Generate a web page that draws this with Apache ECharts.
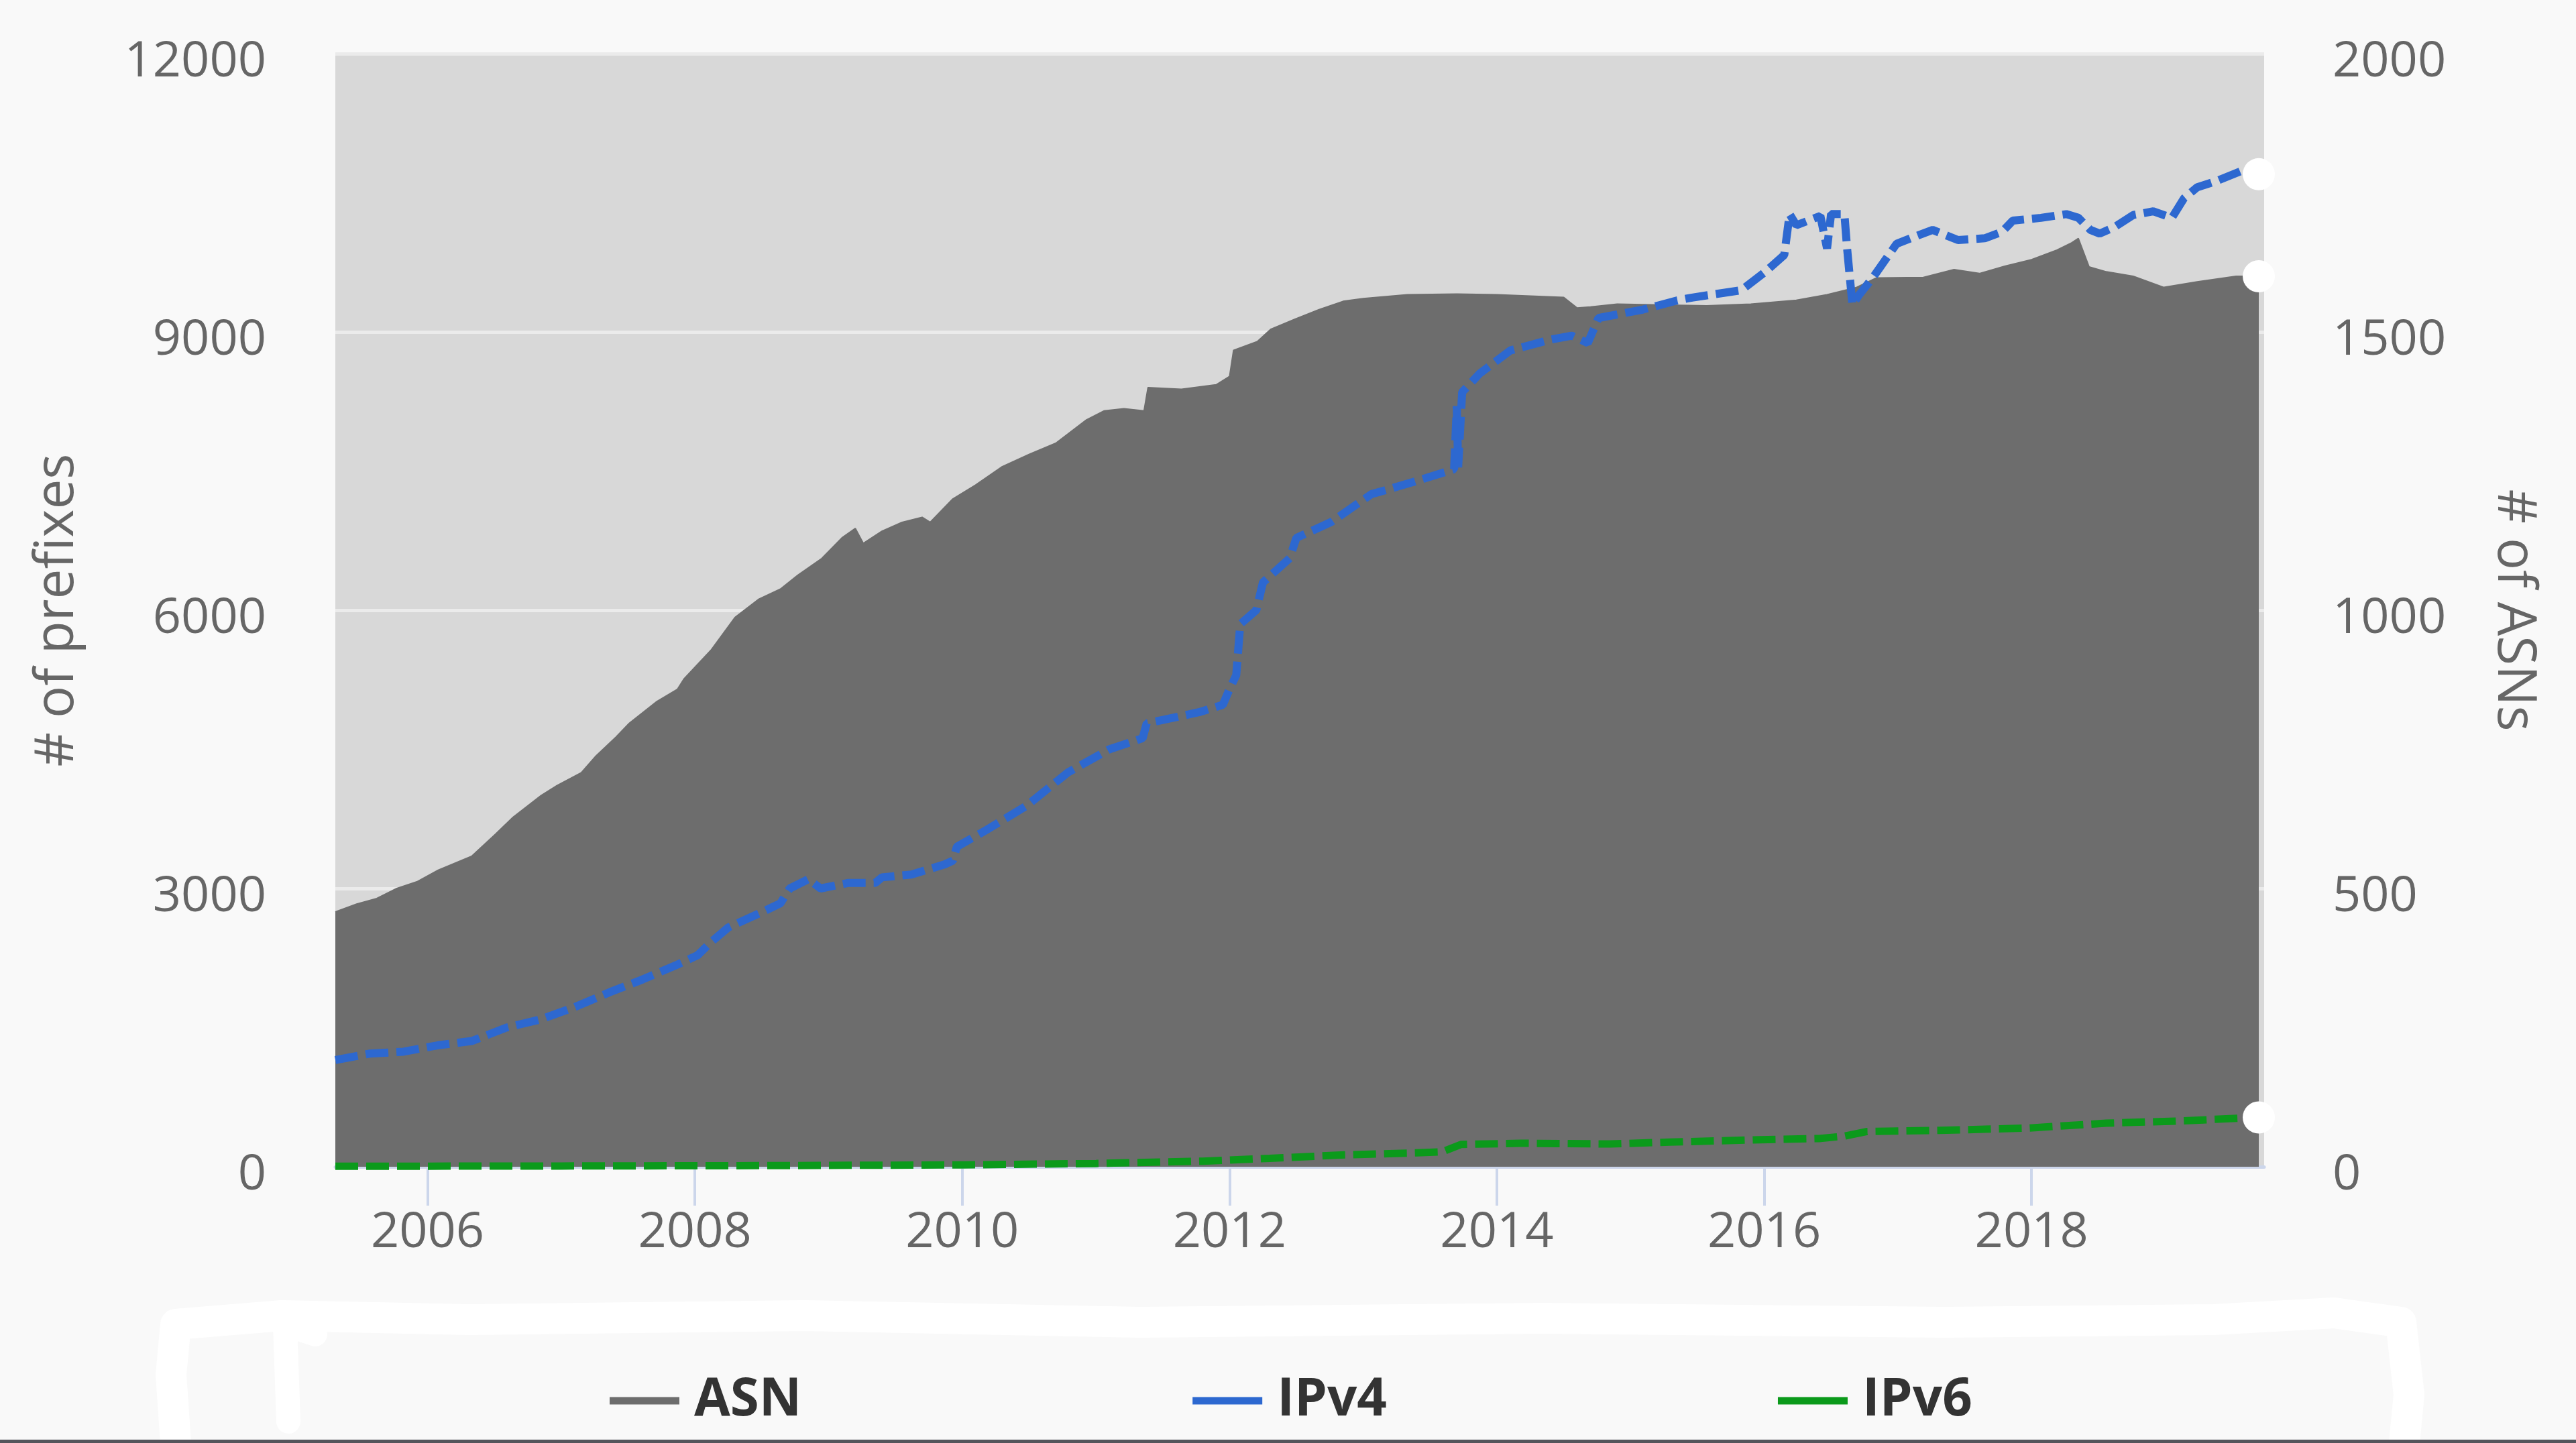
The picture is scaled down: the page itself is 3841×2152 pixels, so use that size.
<!DOCTYPE html>
<html>
<head>
<meta charset="utf-8">
<title>ASN / IPv4 / IPv6</title>
<script src="https://cdn.jsdelivr.net/npm/echarts@6/dist/echarts.min.js"></script>
<style>
    html, body { margin: 0; padding: 0; background: #f9f9f9; }
    #chart { width: 3841px; height: 2152px; }
</style>
</head>
<body>
<div id="chart"></div>
<script>
// x values are decimal years
var yearTicks = [2006, 2008, 2010, 2012, 2014, 2016, 2018];

var asnYears = [2005.31, 2005.47, 2005.62, 2005.77, 2005.92, 2006.08, 2006.33, 2006.51, 2006.64, 2006.85,
    2006.97, 2007.15, 2007.26, 2007.41, 2007.51, 2007.71, 2007.87, 2007.92, 2008.12, 2008.30,
    2008.48, 2008.64, 2008.77, 2008.95, 2009.10, 2009.20, 2009.26, 2009.40, 2009.55, 2009.70,
    2009.76, 2009.93, 2010.10, 2010.30, 2010.50, 2010.70, 2010.93, 2011.06, 2011.21, 2011.36,
    2011.39, 2011.64, 2011.90, 2012.00, 2012.03, 2012.21, 2012.31, 2012.49, 2012.67, 2012.85,
    2013.00, 2013.33, 2013.70, 2014.00, 2014.50, 2014.60, 2014.70, 2014.90, 2015.35, 2015.57,
    2015.90, 2016.24, 2016.47, 2016.69, 2016.84, 2017.19, 2017.42, 2017.61, 2017.80, 2018.00,
    2018.19, 2018.30, 2018.35, 2018.43, 2018.56, 2018.76, 2018.99, 2019.24, 2019.53, 2019.70];
var asnCounts = [458, 472, 482, 500, 512, 533, 558, 598, 628, 667,
    685, 708, 738, 772, 797, 835, 858, 877, 928, 987,
    1020, 1038, 1063, 1093, 1130, 1147, 1120, 1142, 1158, 1167,
    1158, 1200, 1225, 1258, 1280, 1300, 1342, 1358, 1362, 1358,
    1400, 1397, 1405, 1420, 1467, 1483, 1505, 1523, 1540, 1555,
    1560, 1567, 1568, 1567, 1562, 1543, 1545, 1550, 1548, 1547,
    1550, 1557, 1567, 1580, 1597, 1598, 1612, 1605, 1618, 1630,
    1647, 1660, 1668, 1617, 1608, 1600, 1580, 1590, 1600, 1600];

var ipv4Years = [2005.31, 2005.57, 2005.82, 2006.08, 2006.33, 2006.59, 2006.85, 2007.10, 2007.36, 2007.61,
    2007.87, 2008.02, 2008.12, 2008.25, 2008.51, 2008.64, 2008.71, 2008.85, 2008.94, 2009.15,
    2009.35, 2009.40, 2009.62, 2009.87, 2009.93, 2009.96, 2010.18, 2010.48, 2010.79, 2011.10,
    2011.35, 2011.38, 2011.77, 2011.95, 2012.00, 2012.05, 2012.08, 2012.20, 2012.25, 2012.45,
    2012.50, 2012.76, 2013.06, 2013.37, 2013.68, 2013.70, 2013.71, 2013.74, 2013.87, 2014.10,
    2014.41, 2014.56, 2014.68, 2014.76, 2015.09, 2015.35, 2015.46, 2015.83, 2016.01, 2016.15,
    2016.19, 2016.24, 2016.42, 2016.47, 2016.50, 2016.60, 2016.62, 2016.66, 2016.71, 2016.82,
    2016.99, 2017.15, 2017.26, 2017.45, 2017.65, 2017.78, 2017.86, 2018.07, 2018.26, 2018.35,
    2018.44, 2018.51, 2018.62, 2018.76, 2018.91, 2019.05, 2019.14, 2019.24, 2019.39, 2019.56, 2019.70];
var ipv4Prefixes = [1150, 1220, 1240, 1310, 1355, 1500, 1590, 1720, 1880, 2020,
    2180, 2280, 2420, 2580, 2750, 2840, 3000, 3100, 3000, 3060,
    3060, 3120, 3150, 3260, 3300, 3450, 3630, 3890, 4250, 4500,
    4620, 4780, 4900, 4980, 5150, 5300, 5850, 6000, 6300, 6560,
    6780, 6950, 7250, 7380, 7520, 8200, 7540, 8350, 8550, 8800,
    8920, 8960, 8880, 9150, 9240, 9340, 9370, 9450, 9650, 9830,
    10270, 10150, 10250, 9900, 10270, 10270, 9900, 9290, 9400, 9600,
    9950, 10040, 10100, 9990, 10010, 10080, 10200, 10230, 10270, 10230,
    10100, 10060, 10130, 10260, 10300, 10230, 10440, 10560, 10630, 10730, 10700];

var ipv6Years = [2005.31, 2007.00, 2008.50, 2010.00, 2011.00, 2011.80, 2012.30, 2012.83, 2013.40, 2013.59,
    2013.73, 2014.18, 2014.85, 2015.29, 2015.97, 2016.41, 2016.60, 2016.77, 2017.31, 2017.98,
    2018.56, 2019.10, 2019.59, 2019.70];
var ipv6Prefixes = [5, 8, 12, 20, 35, 60, 90, 126, 150, 160,
    240, 253, 245, 266, 291, 304, 330, 380, 392, 417,
    470, 493, 525, 531];

function buildData(xs, ys) {
    var out = [];
    for (var i = 0; i < xs.length; i++) {
        if (i === xs.length - 1) {
            // white dot on the last point
            out.push({ value: [xs[i], ys[i]], symbol: 'circle', symbolSize: 48, itemStyle: { color: '#ffffff' } });
        } else {
            out.push([xs[i], ys[i]]);
        }
    }
    return out;
}

var chartDom = document.getElementById('chart');
var myChart = echarts.init(chartDom);

var labelFont = { fontFamily: 'Open Sans', fontSize: 74, color: '#666666' };
// y labels sit a little below their gridline, no thousands separator
var yLabel = function (margin) {
    return Object.assign({
        margin: margin,
        formatter: function (v) { return '{a|' + v + '}'; },
        rich: { a: { fontFamily: 'Open Sans', fontSize: 74, color: '#666666', padding: [26, 0, 0, 0] } }
    }, labelFont);
};

var option = {
    animation: false,
    backgroundColor: '#f9f9f9',
    textStyle: { fontFamily: 'Open Sans' },
    grid: {
        left: 500, right: 465, top: 80, bottom: 412,
        show: true, backgroundColor: '#d8d8d8', borderWidth: 0,
        containLabel: false, outerBoundsMode: 'none'
    },
    legend: {
        left: 904, top: 2045,
        itemGap: 583, itemWidth: 104, itemHeight: 11,
        icon: 'rect',
        textStyle: { fontFamily: 'Open Sans', fontSize: 78, fontWeight: 'bold', color: '#333333', padding: [0, 0, 0, 17] },
        data: ['ASN', 'IPv4', 'IPv6']
    },
    xAxis: {
        type: 'value',
        min: 2005.31, max: 2019.74,
        axisLine: { show: true, onZero: false, lineStyle: { color: '#ccd6eb', width: 5 } },
        axisTick: { show: true, customValues: yearTicks, length: 58, lineStyle: { color: '#ccd6eb', width: 4 } },
        axisLabel: Object.assign({
            customValues: yearTicks, margin: 62,
            formatter: function (v) { return String(Math.round(v)); }
        }, labelFont),
        splitLine: { show: false }
    },
    yAxis: [
        {
            type: 'value', min: 0, max: 12000, interval: 3000,
            name: '# of prefixes', nameLocation: 'middle', nameGap: 374,
            nameTextStyle: { fontFamily: 'Open Sans', fontSize: 80, color: '#666666' },
            axisLine: { show: false }, axisTick: { show: false },
            axisLabel: yLabel(103),
            splitLine: { show: true, lineStyle: { color: '#ebebeb', width: 5 } }
        },
        {
            type: 'value', min: 0, max: 2000, interval: 500, position: 'right',
            name: '# of ASNs', nameLocation: 'middle', nameGap: 332, nameRotate: -90,
            nameTextStyle: { fontFamily: 'Open Sans', fontSize: 80, color: '#666666' },
            axisLine: { show: false }, axisTick: { show: false },
            axisLabel: yLabel(102),
            splitLine: { show: false }
        }
    ],
    series: [
        {
            name: 'ASN', type: 'line', yAxisIndex: 1, z: 1,
            symbol: 'none', showSymbol: true,
            data: buildData(asnYears, asnCounts),
            itemStyle: { color: '#6d6d6d' },
            lineStyle: { color: '#6d6d6d', width: 2 },
            areaStyle: { color: '#6d6d6d', opacity: 1 }
        },
        {
            name: 'IPv4', type: 'line', yAxisIndex: 0, z: 3,
            symbol: 'none', showSymbol: true,
            data: buildData(ipv4Years, ipv4Prefixes),
            itemStyle: { color: '#2d68d0' },
            lineStyle: { color: '#2d68d0', width: 12, type: [34, 12] }
        },
        {
            name: 'IPv6', type: 'line', yAxisIndex: 0, z: 3,
            symbol: 'none', showSymbol: true,
            data: buildData(ipv6Years, ipv6Prefixes),
            itemStyle: { color: '#0b9a1b' },
            lineStyle: { color: '#0b9a1b', width: 11, type: [34, 12] }
        }
    ],
    graphic: [
        {
            // hand-drawn white mark around the legend
            type: 'polyline', silent: true, z: 0,
            shape: { points: [[262, 2152], [255, 2050], [262, 1975], [420, 1962], [700, 1968], [1200, 1962], [1700, 1972], [2300, 1966], [2900, 1972], [3300, 1968], [3480, 1958], [3580, 1972], [3592, 2080], [3585, 2152]] },
            style: { stroke: '#ffffff', lineWidth: 46, fill: null, lineJoin: 'round', lineCap: 'round' }
        },
        {
            type: 'polyline', silent: true, z: 0,
            shape: { points: [[430, 2120], [425, 1975], [470, 1990]] },
            style: { stroke: '#ffffff', lineWidth: 36, fill: null, lineJoin: 'round', lineCap: 'round' }
        },
        {
            type: 'rect', silent: true,
            shape: { x: 0, y: 2147, width: 3841, height: 5 },
            style: { fill: '#54555b' }
        }
    ]
};

option && myChart.setOption(option);
</script>
</body>
</html>
